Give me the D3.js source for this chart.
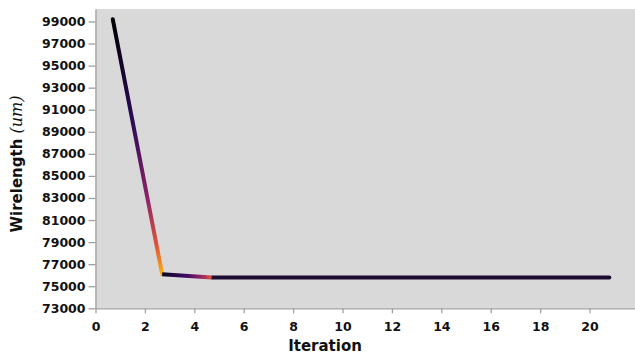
<!DOCTYPE html>
<html>
<head>
<meta charset="utf-8">
<script src="https://cdn.jsdelivr.net/npm/d3@7"></script>
<style>
  body { margin: 0; background: #fff; }
  svg { display: block; }
  .tick text { font-family: "DejaVu Sans", sans-serif; font-weight: bold; font-size: 12.5px; fill: #111; }
</style>
</head>
<body>
<div id="chart"></div>
<script>
// data
const iterations = [0.7, 2.7, 4.7, 6.7, 8.7, 10.7, 12.7, 14.7, 16.7, 18.7, 20.8]
const wirelength = [99200, 76080, 75800, 75800, 75800, 75800, 75800, 75800, 75800, 75800, 75800]
const xTicks = [0, 2, 4, 6, 8, 10, 12, 14, 16, 18, 20]
const yTicks = [73000, 75000, 77000, 79000, 81000, 83000, 85000, 87000, 89000, 91000, 93000, 95000, 97000, 99000]

// colour stops (position along segment, inferno value) for the first segments
const segColours = [
  [[0, 0.0], [0.4, 0.15], [0.7, 0.38], [0.88, 0.6], [1, 0.82]],
  [[0, 0.06], [0.5, 0.2], [0.85, 0.45], [1, 0.62]],
]
const flatColour = '#1d0b33'

const width = 635
const height = 356

const svg = d3.select('#chart').append('svg')
  .attr('width', width)
  .attr('height', height)

const x = d3.scaleLinear().domain([0, 21.84]).range([95.5, 635])
const y = d3.scaleLinear().domain([73000, 100130]).range([308.3, 9])

svg.append('rect')
  .attr('x', x(0))
  .attr('y', y(100130))
  .attr('width', x(21.84) - x(0))
  .attr('height', y(73000) - y(100130))
  .attr('fill', '#d9d9d9')

svg.append('g')
  .attr('transform', `translate(0, ${y(73000)})`)
  .call(d3.axisBottom(x).tickValues(xTicks).tickSize(5).tickPadding(9).tickSizeOuter(0))

svg.append('g')
  .attr('transform', `translate(${x(0)}, 0)`)
  .call(d3.axisLeft(y).tickValues(yTicks).tickFormat(d3.format('d')).tickSize(7).tickPadding(3).tickSizeOuter(0))

svg.selectAll('.domain, .tick line').attr('stroke', '#a0a0a0').attr('stroke-width', 1.3)

const defs = svg.append('defs')
const pts = iterations.map((d, i) => [x(d), y(wirelength[i])])
const line = d3.line()

// the long flat tail as one path
svg.append('path')
  .attr('d', line(pts.slice(segColours.length)))
  .attr('fill', 'none')
  .attr('stroke', flatColour)
  .attr('stroke-width', 4)
  .attr('stroke-linecap', 'round')
  .attr('stroke-linejoin', 'round')

// the first segments each with their own gradient
segColours.forEach((stops, i) => {
  const [x1, y1] = pts[i]
  const [x2, y2] = pts[i + 1]
  const id = 'seg' + i
  const g = defs.append('linearGradient')
    .attr('id', id)
    .attr('gradientUnits', 'userSpaceOnUse')
    .attr('x1', x1).attr('y1', y1)
    .attr('x2', x2).attr('y2', y2)
  stops.forEach(s => {
    g.append('stop').attr('offset', s[0]).attr('stop-color', d3.interpolateInferno(s[1]))
  })
  svg.append('path')
    .attr('d', line([pts[i], pts[i + 1]]))
    .attr('fill', 'none')
    .attr('stroke', `url(#${id})`)
    .attr('stroke-width', 4)
    .attr('stroke-linecap', i == 0 ? 'round' : 'butt')
})

// axis titles
svg.append('text')
  .attr('x', 325)
  .attr('y', 351)
  .attr('text-anchor', 'middle')
  .style('font-family', '"DejaVu Sans", sans-serif')
  .style('font-weight', 'bold')
  .style('font-size', '15px')
  .attr('fill', '#111')
  .text('Iteration')

const yTitle = svg.append('text')
  .attr('transform', 'translate(22, 164) rotate(-90)')
  .attr('text-anchor', 'middle')
  .style('font-family', '"DejaVu Sans", sans-serif')
  .style('font-size', '15px')
  .attr('fill', '#111')
yTitle.append('tspan').style('font-weight', 'bold').text('Wirelength ')
yTitle.append('tspan')
  .style('font-family', '"DejaVu Serif", serif')
  .style('font-style', 'italic')
  .style('font-size', '16px')
  .text('(um)')
</script>
</body>
</html>
